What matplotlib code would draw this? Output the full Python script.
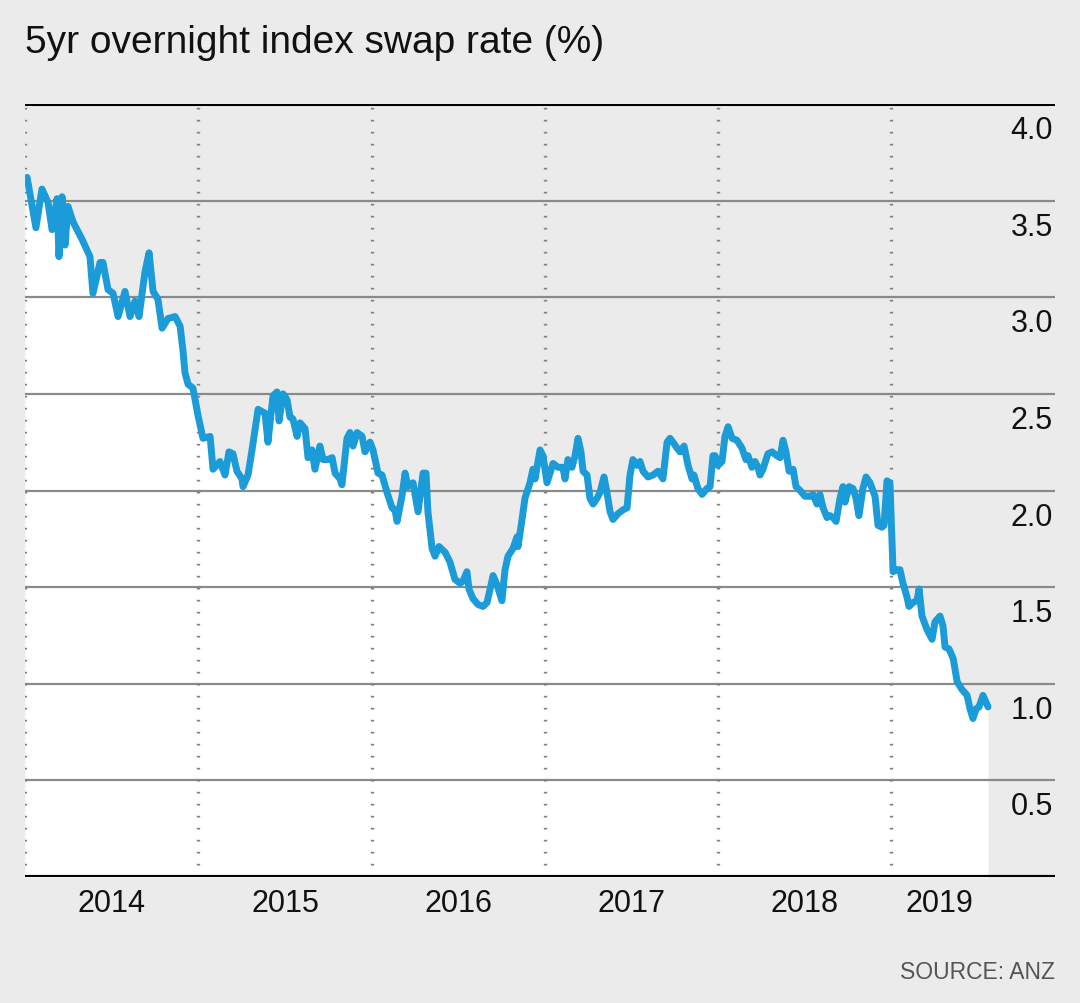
import matplotlib
matplotlib.use("Agg")
import matplotlib.pyplot as plt
import numpy as np

# Dados (ano decimal, taxa %)
datas = [
    2014.000, 2014.012, 2014.063, 2014.098, 2014.133, 2014.156, 2014.185, 2014.196,
    2014.214, 2014.231, 2014.248, 2014.277, 2014.329, 2014.375, 2014.392, 2014.433,
    2014.450, 2014.479, 2014.508, 2014.537, 2014.577, 2014.606, 2014.635, 2014.658,
    2014.692, 2014.716, 2014.739, 2014.767, 2014.791, 2014.825, 2014.866, 2014.895,
    2014.912, 2014.923, 2014.941, 2014.969, 2014.998,
    2015.027, 2015.068, 2015.085, 2015.125, 2015.154, 2015.177, 2015.200, 2015.223,
    2015.252, 2015.258, 2015.287, 2015.310, 2015.345, 2015.385, 2015.402, 2015.431,
    2015.454, 2015.466, 2015.489, 2015.512, 2015.529, 2015.546, 2015.570, 2015.587,
    2015.616, 2015.633, 2015.656, 2015.673, 2015.702, 2015.720, 2015.748, 2015.772,
    2015.789, 2015.818, 2015.829, 2015.858, 2015.875, 2015.893, 2015.916, 2015.945,
    2015.962, 2015.991,
    2016.008, 2016.037, 2016.060, 2016.089, 2016.118, 2016.135, 2016.147, 2016.175,
    2016.193, 2016.210, 2016.239, 2016.268, 2016.297, 2016.314, 2016.325, 2016.349,
    2016.366, 2016.389, 2016.424, 2016.452, 2016.481, 2016.510, 2016.527, 2016.550,
    2016.562, 2016.585, 2016.614, 2016.643, 2016.666, 2016.689, 2016.701, 2016.724,
    2016.752, 2016.770, 2016.787, 2016.816, 2016.839, 2016.845, 2016.868, 2016.885,
    2016.914, 2016.931, 2016.943, 2016.972, 2016.989,
    2017.012, 2017.047, 2017.076, 2017.104, 2017.116, 2017.133, 2017.156, 2017.174,
    2017.191, 2017.208, 2017.220, 2017.243, 2017.260, 2017.278, 2017.301, 2017.318,
    2017.341, 2017.358, 2017.376, 2017.393, 2017.422, 2017.451, 2017.474, 2017.491,
    2017.508, 2017.531, 2017.549, 2017.566, 2017.595, 2017.624, 2017.653, 2017.681,
    2017.705, 2017.722, 2017.739, 2017.762, 2017.780, 2017.803, 2017.826, 2017.849,
    2017.860, 2017.883, 2017.907, 2017.935, 2017.953, 2017.970, 2017.982, 2017.999,
    2018.022, 2018.039, 2018.057, 2018.080, 2018.108, 2018.137, 2018.160, 2018.172,
    2018.195, 2018.212, 2018.230, 2018.241, 2018.258, 2018.287, 2018.311, 2018.339,
    2018.357, 2018.374, 2018.391, 2018.409, 2018.432, 2018.449, 2018.472, 2018.501,
    2018.530, 2018.547, 2018.570, 2018.587, 2018.605, 2018.628, 2018.645, 2018.662,
    2018.680, 2018.703, 2018.720, 2018.732, 2018.755, 2018.778, 2018.795, 2018.812,
    2018.835, 2018.853, 2018.876, 2018.905, 2018.922, 2018.945, 2018.957, 2018.974,
    2018.991,
    2019.009, 2019.032, 2019.049, 2019.066, 2019.089, 2019.101, 2019.124, 2019.147,
    2019.159, 2019.176, 2019.205, 2019.234, 2019.251, 2019.280, 2019.297, 2019.309,
    2019.332, 2019.356, 2019.379, 2019.407, 2019.436, 2019.453, 2019.470, 2019.488,
    2019.505, 2019.528, 2019.557,
]
taxas = [
    3.61, 3.62, 3.36, 3.56, 3.49, 3.35, 3.51, 3.21,
    3.52, 3.27, 3.47, 3.39, 3.30, 3.21, 3.02, 3.18,
    3.18, 3.04, 3.02, 2.90, 3.03, 2.90, 2.98, 2.90,
    3.13, 3.23, 3.03, 2.99, 2.84, 2.89, 2.90, 2.85,
    2.72, 2.61, 2.55, 2.53, 2.39,
    2.27, 2.28, 2.11, 2.15, 2.08, 2.20, 2.19, 2.10,
    2.06, 2.02, 2.08, 2.21, 2.42, 2.40, 2.25, 2.49,
    2.51, 2.36, 2.50, 2.47, 2.38, 2.37, 2.28, 2.35,
    2.32, 2.17, 2.21, 2.11, 2.23, 2.16, 2.16, 2.17,
    2.09, 2.06, 2.03, 2.27, 2.30, 2.23, 2.30, 2.28,
    2.20, 2.25,
    2.21, 2.09, 2.08, 1.99, 1.91, 1.90, 1.84, 1.97,
    2.09, 2.02, 2.04, 1.89, 2.09, 2.09, 1.89, 1.70,
    1.66, 1.71, 1.68, 1.63, 1.54, 1.52, 1.53, 1.58,
    1.49, 1.44, 1.41, 1.40, 1.42, 1.51, 1.56, 1.51,
    1.43, 1.59, 1.66, 1.70, 1.76, 1.71, 1.85, 1.96,
    2.04, 2.11, 2.06, 2.21, 2.18,
    2.04, 2.14, 2.12, 2.12, 2.06, 2.16, 2.12, 2.18,
    2.27, 2.20, 2.10, 2.08, 1.96, 1.93, 1.96, 1.99,
    2.07, 1.99, 1.89, 1.85, 1.88, 1.90, 1.91, 2.08,
    2.16, 2.13, 2.15, 2.10, 2.07, 2.08, 2.10, 2.06,
    2.25, 2.27, 2.25, 2.22, 2.20, 2.23, 2.13, 2.06,
    2.08, 2.01, 1.98, 2.01, 2.02, 2.18, 2.18, 2.13,
    2.15, 2.28, 2.33, 2.27, 2.26, 2.22, 2.16, 2.18,
    2.12, 2.15, 2.12, 2.08, 2.11, 2.19, 2.20, 2.18,
    2.17, 2.26, 2.20, 2.10, 2.11, 2.02, 2.00, 1.97,
    1.97, 1.98, 1.93, 1.98, 1.91, 1.86, 1.87, 1.86,
    1.84, 1.96, 2.02, 1.94, 2.02, 2.01, 1.96, 1.87,
    2.01, 2.07, 2.04, 1.97, 1.82, 1.81, 1.82, 2.05,
    2.04,
    1.58, 1.59, 1.59, 1.52, 1.45, 1.40, 1.42, 1.43,
    1.49, 1.35, 1.28, 1.23, 1.32, 1.35, 1.30, 1.19,
    1.18, 1.13, 1.01, 0.97, 0.94, 0.87, 0.82, 0.87,
    0.88, 0.94, 0.88,
]
anos = [2014, 2015, 2016, 2017, 2018, 2019]
rotulos_anos = ["2014", "2015", "2016", "2017", "2018", "2019"]
niveis = [0.5, 1.0, 1.5, 2.0, 2.5, 3.0, 3.5, 4.0]

datas = np.array(datas)
taxas = np.array(taxas)

fundo = "#ecebec"
azul = "#1b9bd7"
fonte = ["Liberation Sans", "DejaVu Sans"]

fig = plt.figure(figsize=(10.8, 10.04), dpi=100)
fig.patch.set_facecolor(fundo)
ax = fig.add_axes([25 / 1080, 126 / 1004, 1030 / 1080, 773 / 1004])
ax.set_facecolor(fundo)

x_max = 2014 + 1030 / 173.3
ax.set_xlim(2014, x_max)
ax.set_ylim(0, 4)

# área branca abaixo da curva
ax.fill_between(datas, taxas, 0, color="white", lw=0, zorder=1)

# linhas horizontais
for n in niveis[:-1]:
    ax.axhline(n, color="#8a8a8a", lw=1.6, zorder=2)
ax.axhline(4.0, color="black", lw=2.2, zorder=3)
ax.axhline(0.0, color="black", lw=3.0, zorder=3)

# linhas verticais pontilhadas no início de cada ano
for a in anos:
    ax.axvline(a, color="#808080", lw=2.4, dashes=(0.5, 3.1), zorder=2)

# série
ax.plot(datas, taxas, color=azul, lw=5.0, solid_joinstyle="round",
        solid_capstyle="round", zorder=4)

# rótulos do eixo y (à direita, abaixo de cada linha)
for n in niveis:
    ax.text(x_max - 0.012, n - 0.135, f"{n:.1f}", ha="right", va="center",
            fontsize=22, family=fonte, color="#111111", zorder=5)

# rótulos dos anos
fim = datas[-1]
for a, r in zip(anos, rotulos_anos):
    meio = a + 0.5 if a < 2019 else (a + fim) / 2
    ax.text(meio, -0.135, r, ha="center", va="center", fontsize=22,
            family=fonte, color="#111111", clip_on=False)

ax.set_xticks([])
ax.set_yticks([])
for s in ax.spines.values():
    s.set_visible(False)

fig.text(25 / 1080, 1 - 53 / 1004, "5yr overnight index swap rate (%)",
         ha="left", va="baseline", fontsize=28, family=fonte, color="#111111")
fig.text(1055 / 1080, 1 - 973 / 1004, "SOURCE: ANZ", ha="right", va="center",
         fontsize=16.5, family=fonte, color="#555555")

fig.savefig("out.png", dpi=100, facecolor=fundo)
